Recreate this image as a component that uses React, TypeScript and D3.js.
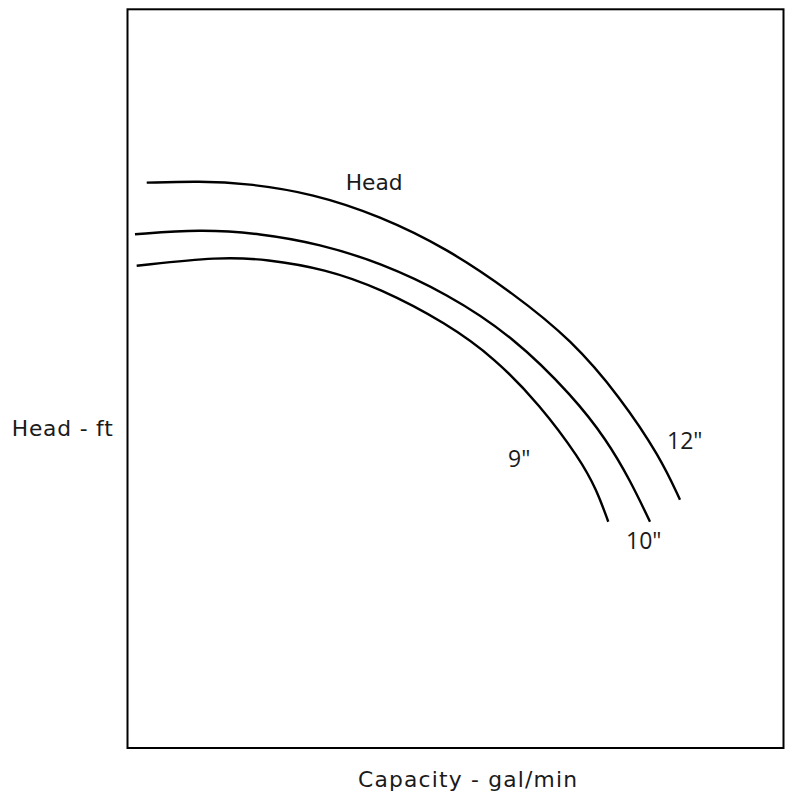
import React from "react";
import * as d3 from "d3";

// Impeller diameter curves: capacity (gal/min, arbitrary 0-1000) vs head (ft, arbitrary 0-100)
const capacity12 = [29.3, 110.5, 181.7, 282.8, 384.9, 486.6, 588.1, 677.1, 750.8, 811.7, 842.2];
const head12 = [76.53, 76.73, 76.44, 75.06, 72.02, 67.65, 61.55, 55.23, 47.52, 39.43, 33.6];

const capacity10 = [11.4, 110.5, 202.0, 293.4, 384.9, 486.6, 588.1, 679.6, 730.5, 766.0, 796.5];
const head10 = [69.54, 70.22, 69.67, 68.23, 65.7, 61.55, 55.68, 47.56, 41.69, 36.28, 30.63];

const capacity9 = [14.0, 141.0, 212.2, 301.1, 384.9, 486.6, 560.2, 628.8, 689.8, 715.2, 732.9];
const head9 = [65.29, 66.51, 66.16, 64.84, 62.23, 57.49, 52.75, 46.43, 39.12, 34.93, 30.63];

const seriesNames = ['12"', '10"', '9"'];
const xTitle = "Capacity - gal/min";
const yTitle = "Head - ft";
const curveTitle = "Head";

const W = 785;
const H = 795;
const left = 127.5, right = 783.5, top = 9.3, bottom = 748;

export default function App() {
  const x = d3.scaleLinear().domain([0, 1000]).range([left, right]);
  const y = d3.scaleLinear().domain([0, 100]).range([bottom, top]);
  const line = d3
    .line<[number, number]>()
    .x((d) => x(d[0]))
    .y((d) => y(d[1]))
    .curve(d3.curveBasis);

  const series = [
    d3.zip(capacity12, head12) as [number, number][],
    d3.zip(capacity10, head10) as [number, number][],
    d3.zip(capacity9, head9) as [number, number][],
  ];

  const titleFont = "'DejaVu Sans', Verdana, sans-serif";
  const numFont = "'Open Sans', sans-serif";

  return (
    <svg
      width={W}
      height={H}
      style={{ position: "absolute", left: 0, top: 0, background: "#fff" }}
    >
      <rect
        x={left}
        y={top}
        width={right - left}
        height={bottom - top}
        fill="none"
        stroke="#000"
        strokeWidth={2}
      />
      {series.map((s, i) => (
        <path key={i} d={line(s) || ""} fill="none" stroke="#000" strokeWidth={2.4} />
      ))}
      <text x={345.7} y={189.5} fontFamily={titleFont} fontSize={21.8} fill="#1a1a1a">
        {curveTitle}
      </text>
      <text x={11.7} y={436} fontFamily={titleFont} fontSize={21.8} fill="#1a1a1a"
        textLength={101} lengthAdjust="spacing">
        {yTitle}
      </text>
      <text x={358} y={787} fontFamily={titleFont} fontSize={21.8} fill="#1a1a1a"
        textLength={219} lengthAdjust="spacing">
        {xTitle}
      </text>
      <text x={667} y={449} fontFamily={numFont} fontSize={23} fill="#1a1a1a">
        {seriesNames[0]}
      </text>
      <text x={626} y={549} fontFamily={numFont} fontSize={23} fill="#1a1a1a">
        {seriesNames[1]}
      </text>
      <text x={508} y={467} fontFamily={numFont} fontSize={23} fill="#1a1a1a">
        {seriesNames[2]}
      </text>
    </svg>
  );
}
